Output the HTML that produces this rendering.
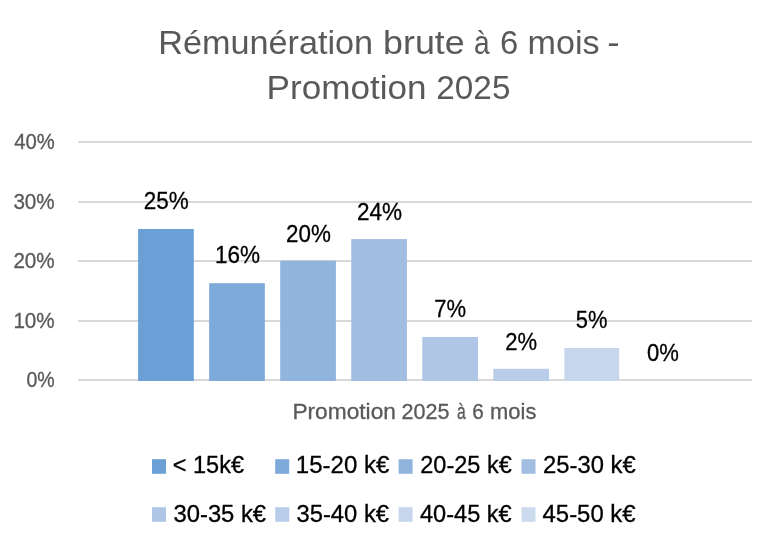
<!DOCTYPE html>
<html><head><meta charset="utf-8"><title>Rémunération brute à 6 mois - Promotion 2025</title>
<style>html,body{margin:0;padding:0;background:#fff;width:779px;height:547px;overflow:hidden}
svg{display:block;will-change:transform} text{font-family:"Liberation Sans",Arial,sans-serif}</style></head>
<body><svg width="779" height="547" viewBox="0 0 779 547">
<rect width="779" height="547" fill="#fff"/>
<rect x="78" y="141" width="674" height="2" fill="#D9D9D9"/>
<rect x="78" y="201" width="674" height="2" fill="#D9D9D9"/>
<rect x="78" y="260" width="674" height="2" fill="#D9D9D9"/>
<rect x="78" y="320" width="674" height="2" fill="#D9D9D9"/>
<rect x="78" y="379" width="674" height="2" fill="#D9D9D9"/>
<rect x="138.10" y="229.00" width="55.7" height="152.00" fill="#6AA0D6"/>
<rect x="209.15" y="283.20" width="55.7" height="97.80" fill="#7EAADB"/>
<rect x="280.20" y="260.70" width="55.7" height="120.30" fill="#91B4DF"/>
<rect x="351.25" y="239.10" width="55.7" height="141.90" fill="#A1BDE2"/>
<rect x="422.30" y="337.00" width="55.7" height="44.00" fill="#AFC6E6"/>
<rect x="493.35" y="368.80" width="55.7" height="12.20" fill="#B9CDEB"/>
<rect x="564.40" y="348.00" width="54.8" height="33.00" fill="#C6D6ED"/>
<rect x="152.0" y="459.2" width="14" height="14.6" fill="#6AA0D6"/>
<rect x="275.2" y="459.2" width="14" height="14.6" fill="#7EAADB"/>
<rect x="398.6" y="459.2" width="14" height="14.6" fill="#91B4DF"/>
<rect x="521.5" y="459.2" width="14" height="14.6" fill="#A1BDE2"/>
<rect x="152.0" y="507.2" width="14" height="14.6" fill="#AFC6E6"/>
<rect x="275.2" y="507.2" width="14" height="14.6" fill="#B9CDEB"/>
<rect x="398.6" y="507.2" width="14" height="14.6" fill="#C6D6ED"/>
<rect x="521.5" y="507.2" width="14" height="14.6" fill="#CCDAEE"/>
<text transform="translate(158.20,54.10) scale(1.0421,1)" font-size="32.85" fill="#595959">Rémunération</text>
<text transform="translate(383.10,54.10) scale(1.0906,1)" font-size="32.85" fill="#595959">brute</text>
<text transform="translate(474.00,54.10) scale(0.8566,1)" font-size="32.85" fill="#595959">à</text>
<text transform="translate(500.10,54.10) scale(0.9985,1)" font-size="32.85" fill="#595959">6</text>
<text transform="translate(527.60,54.10) scale(1.0389,1)" font-size="32.85" fill="#595959">mois</text>
<text transform="translate(607.20,54.10) scale(1.1359,1)" font-size="32.85" fill="#595959">-</text>
<text transform="translate(266.60,98.90) scale(1.0597,1)" font-size="33.14" fill="#595959">Promotion</text>
<text transform="translate(436.30,98.90) scale(1.0056,1)" font-size="33.14" fill="#595959">2025</text>
<text transform="translate(14.20,148.90) scale(0.9361,1)" font-size="21.63" fill="#595959" stroke="#595959" stroke-width="0.3">40%</text>
<text transform="translate(13.40,208.60) scale(0.9545,1)" font-size="21.63" fill="#595959" stroke="#595959" stroke-width="0.3">30%</text>
<text transform="translate(13.40,267.65) scale(0.9545,1)" font-size="21.63" fill="#595959" stroke="#595959" stroke-width="0.3">20%</text>
<text transform="translate(13.40,327.65) scale(0.9545,1)" font-size="21.63" fill="#595959" stroke="#595959" stroke-width="0.3">10%</text>
<text transform="translate(26.40,386.70) scale(0.9057,1)" font-size="21.63" fill="#595959" stroke="#595959" stroke-width="0.3">0%</text>
<text transform="translate(292.40,418.80) scale(1.0491,1)" font-size="21.66" fill="#595959" stroke="#595959" stroke-width="0.3">Promotion</text>
<text transform="translate(401.60,418.80) scale(0.9953,1)" font-size="21.66" fill="#595959" stroke="#595959" stroke-width="0.3">2025</text>
<text transform="translate(457.10,418.80) scale(0.7254,1)" font-size="21.66" fill="#595959" stroke="#595959" stroke-width="0.3">à</text>
<text transform="translate(472.30,418.80) scale(0.9558,1)" font-size="21.66" fill="#595959" stroke="#595959" stroke-width="0.3">6</text>
<text transform="translate(490.10,418.80) scale(1.0127,1)" font-size="21.66" fill="#595959" stroke="#595959" stroke-width="0.3">mois</text>
<text transform="translate(143.85,208.80) scale(0.9174,1)" font-size="24.50" fill="#000000" stroke="#000" stroke-width="0.3">25%</text>
<text transform="translate(214.90,262.90) scale(0.9184,1)" font-size="24.50" fill="#000000" stroke="#000" stroke-width="0.3">16%</text>
<text transform="translate(286.00,241.60) scale(0.9143,1)" font-size="24.50" fill="#000000" stroke="#000" stroke-width="0.3">20%</text>
<text transform="translate(356.90,219.80) scale(0.9205,1)" font-size="24.50" fill="#000000" stroke="#000" stroke-width="0.3">24%</text>
<text transform="translate(434.35,316.70) scale(0.8986,1)" font-size="24.50" fill="#000000" stroke="#000" stroke-width="0.3">7%</text>
<text transform="translate(505.35,349.70) scale(0.8986,1)" font-size="24.50" fill="#000000" stroke="#000" stroke-width="0.3">2%</text>
<text transform="translate(575.80,327.80) scale(0.8944,1)" font-size="24.50" fill="#000000" stroke="#000" stroke-width="0.3">5%</text>
<text transform="translate(646.98,360.90) scale(0.9006,1)" font-size="24.50" fill="#000000" stroke="#000" stroke-width="0.3">0%</text>
<text transform="translate(172.80,472.85) scale(0.9800,1)" font-size="23.98" fill="#000000" stroke="#000" stroke-width="0.3">&lt; 15k€</text>
<text transform="translate(295.80,472.85) scale(1.0019,1)" font-size="23.98" fill="#000000" stroke="#000" stroke-width="0.3">15-20 k€</text>
<text transform="translate(420.30,472.85) scale(0.9805,1)" font-size="23.98" fill="#000000" stroke="#000" stroke-width="0.3">20-25 k€</text>
<text transform="translate(543.10,472.85) scale(0.9923,1)" font-size="23.98" fill="#000000" stroke="#000" stroke-width="0.3">25-30 k€</text>
<text transform="translate(173.50,521.80) scale(0.9933,1)" font-size="23.98" fill="#000000" stroke="#000" stroke-width="0.3">30-35 k€</text>
<text transform="translate(296.50,521.80) scale(0.9923,1)" font-size="23.98" fill="#000000" stroke="#000" stroke-width="0.3">35-40 k€</text>
<text transform="translate(420.00,521.80) scale(0.9837,1)" font-size="23.98" fill="#000000" stroke="#000" stroke-width="0.3">40-45 k€</text>
<text transform="translate(542.50,521.80) scale(0.9987,1)" font-size="23.98" fill="#000000" stroke="#000" stroke-width="0.3">45-50 k€</text>
</svg></body></html>
